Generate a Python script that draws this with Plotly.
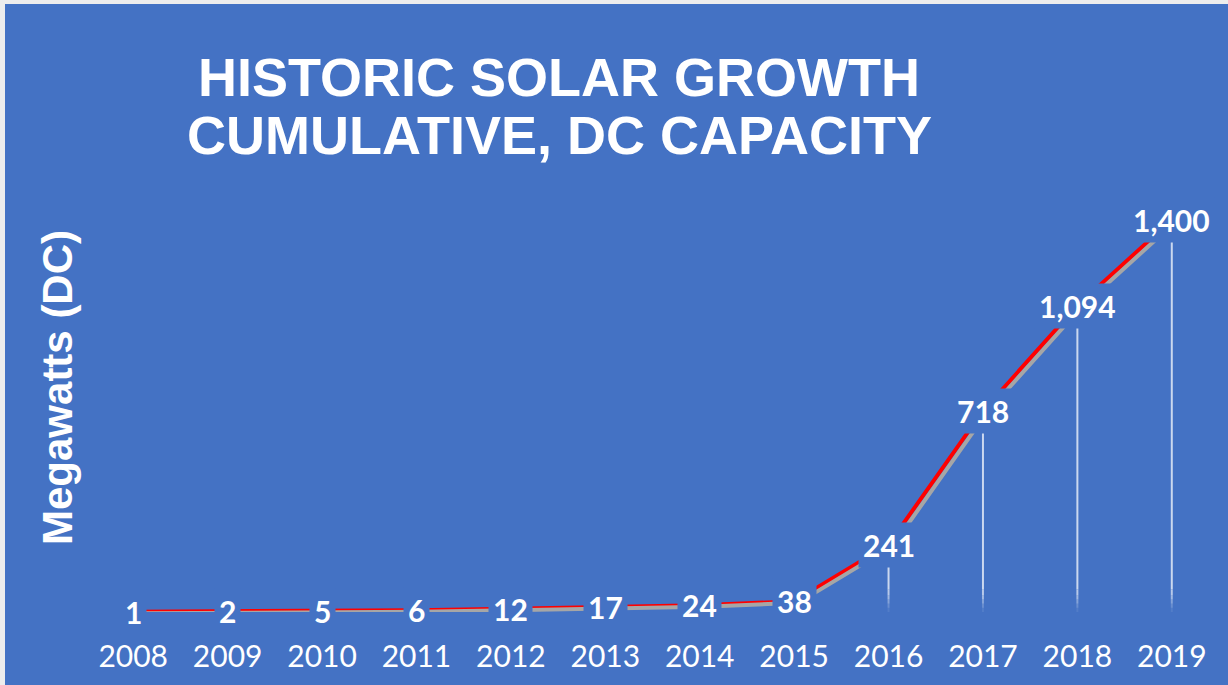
import plotly.graph_objects as go

years = ["2008", "2009", "2010", "2011", "2012", "2013", "2014", "2015", "2016", "2017", "2018", "2019"]
capacity_mw = [1, 2, 5, 6, 12, 17, 24, 38, 241, 718, 1094, 1400]

title_lines = ["HISTORIC SOLAR GROWTH", "CUMULATIVE, DC CAPACITY"]
y_title = "Megawatts (DC)"

BLUE = "#4472C4"
W, H = 1228, 685
ML, MR, MT, MB = 86, 9, 192, 73
PW = W - ML - MR
PH = H - MT - MB
Y_MAX = 1500
n = len(years)
px_per_cat = PW / n
px_per_mw = PH / Y_MAX


def px_x(p):
    return (p - ML) / PW


def px_y(p):
    return (H - MB - p) / PH


fig = go.Figure()

# drop lines (fading towards the axis)
fade = [(0, 15, 0.08), (15, 30, 0.2), (30, 45, 0.35), (45, 60, 0.5), (60, 80, 0.62), (80, None, 0.72)]
for lo, hi, a in fade:
    xs, ys = [], []
    for yr, v in zip(years, capacity_mw):
        top = v if hi is None else min(v, hi)
        if top > lo:
            xs += [yr, yr, None]
            ys += [lo, top, None]
    fig.add_trace(go.Scatter(x=xs, y=ys, mode="lines",
                             line=dict(color=f"rgba(255,255,255,{a})", width=2),
                             hoverinfo="skip", showlegend=False))

# shadow line (offset by a few pixels via shifted overlay axes)
fig.add_trace(go.Scatter(x=years, y=capacity_mw, mode="lines",
                         line=dict(color="#A6A6A6", width=4),
                         xaxis="x2", yaxis="y2", hoverinfo="skip", showlegend=False))
# main line
fig.add_trace(go.Scatter(x=years, y=capacity_mw, mode="lines",
                         line=dict(color="#FF0000", width=4),
                         showlegend=False))

annotations = []
for i, v in enumerate(capacity_mw):
    annotations.append(dict(x=i, y=v, xref="x", yref="y", text=f"{v:,}", showarrow=False,
                            font=dict(family="Lato", size=30, color="white", weight="bold"),
                            bgcolor=BLUE, borderpad=4, xanchor="center", yanchor="middle"))

annotations.append(dict(x=px_x(559), y=px_y(77), xref="paper", yref="paper", text=title_lines[0],
                        showarrow=False, xanchor="center", yanchor="middle",
                        font=dict(family="Liberation Sans", size=54, color="white", weight="bold")))
annotations.append(dict(x=px_x(559), y=px_y(135), xref="paper", yref="paper", text=title_lines[1],
                        showarrow=False, xanchor="center", yanchor="middle",
                        font=dict(family="Liberation Sans", size=54, color="white", weight="bold")))
annotations.append(dict(x=px_x(57), y=px_y(388), xref="paper", yref="paper", text=y_title,
                        showarrow=False, xanchor="center", yanchor="middle", textangle=-90,
                        font=dict(family="Liberation Sans", size=42, color="white", weight="bold")))

shift_x_px, shift_y_px = 4, 1.5
dx = shift_x_px / px_per_cat
dy = shift_y_px / px_per_mw

fig.update_layout(
    width=W, height=H,
    margin=dict(l=ML, r=MR, t=MT, b=MB),
    paper_bgcolor=BLUE, plot_bgcolor=BLUE,
    xaxis=dict(type="category", range=[-0.5, n - 0.5], showgrid=False, zeroline=False,
               showline=False, ticks="", tickfont=dict(family="Lato", size=30, color="white"),
               ticklabelstandoff=24, fixedrange=True),
    yaxis=dict(range=[0, Y_MAX], showgrid=False, zeroline=False, showline=False,
               showticklabels=False, fixedrange=True),
    xaxis2=dict(type="category", range=[-0.5 - dx, n - 0.5 - dx], overlaying="x",
                visible=False, fixedrange=True),
    yaxis2=dict(range=[0 + dy, Y_MAX + dy], overlaying="y", visible=False, fixedrange=True),
    annotations=annotations,
    shapes=[
        dict(type="rect", xref="paper", yref="paper", x0=px_x(-2), x1=px_x(5), y0=px_y(H + 2),
             y1=px_y(-2), fillcolor="#EDEDED", line=dict(width=0), layer="above"),
        dict(type="rect", xref="paper", yref="paper", x0=px_x(-2), x1=px_x(W + 2), y0=px_y(4),
             y1=px_y(-2), fillcolor="#EDEDED", line=dict(width=0), layer="above"),
    ],
    showlegend=False,
)

fig.write_html("out.html", config={"displayModeBar": False},
               post_script="document.body.style.margin='0';")
